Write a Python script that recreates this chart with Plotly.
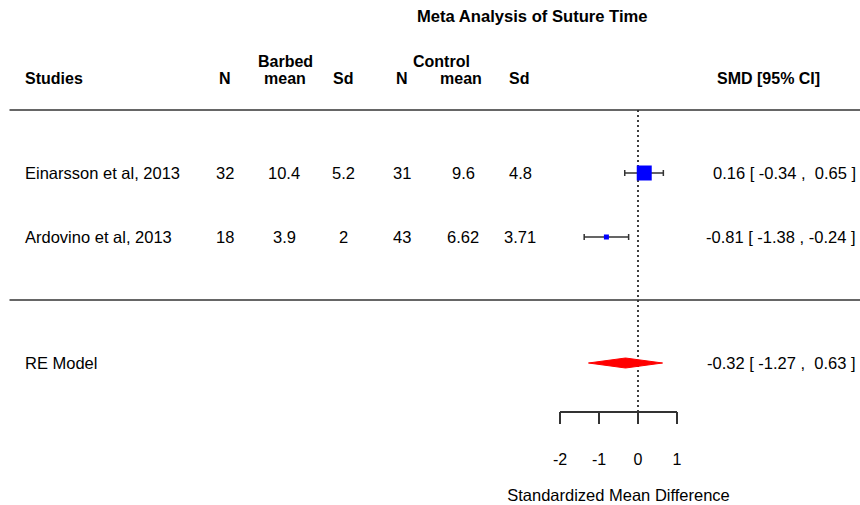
import plotly.graph_objects as go

# ---------------- data ----------------
studies = ["Einarsson et al, 2013", "Ardovino et al, 2013"]
barbed_n = ["32", "18"]
barbed_mean = ["10.4", "3.9"]
barbed_sd = ["5.2", "2"]
control_n = ["31", "43"]
control_mean = ["9.6", "6.62"]
control_sd = ["4.8", "3.71"]
smd = [0.16, -0.81]
ci_lo = [-0.34, -1.38]
ci_hi = [0.65, -0.24]
re_label = "RE Model"
re_smd = -0.32
re_lo = -1.27
re_hi = 0.63
x_ticks = [-2, -1, 0, 1]
title = "Meta Analysis of Suture Time"
x_title = "Standardized Mean Difference"

# ---------------- layout helpers ----------------
W, H = 860, 505
ZERO_PX, UNIT_PX = 638, 39          # x pixel of SMD 0, pixels per SMD unit
ROW0_PX, ROW_PX = 173, 64           # pixel of row 2, pixels per row
FONT = "Liberation Sans, Arial, sans-serif"
INK = "#000000"
LINE = "#333333"


def px2x(p):
    return (p - ZERO_PX) / UNIT_PX


def py2y(p):
    return 2 - (p - ROW0_PX) / ROW_PX


k = len(studies)
study_rows = list(range(k, 0, -1))   # 2, 1
re_row = py2y(363)
header_line_row = py2y(110)
sep_row = py2y(300)
axis_row = py2y(411.5)

fig = go.Figure()

# study CIs + squares
fig.add_trace(go.Scatter(
    x=smd, y=study_rows, mode="markers",
    marker=dict(symbol="square", size=[15, 5], color="#0000FF", opacity=1,
                line=dict(width=0)),
    error_x=dict(type="data", symmetric=False,
                 array=[h - e for h, e in zip(ci_hi, smd)],
                 arrayminus=[e - l for e, l in zip(smd, ci_lo)],
                 color=LINE, thickness=1.5, width=3),
    hoverinfo="skip", showlegend=False,
))

# summary diamond
dh = 5 / ROW_PX
fig.add_trace(go.Scatter(
    x=[re_lo, re_smd, re_hi, re_smd, re_lo],
    y=[re_row, re_row + dh, re_row, re_row - dh, re_row],
    mode="lines", fill="toself", fillcolor="#FF0000",
    line=dict(color="#FF0000", width=1),
    hoverinfo="skip", showlegend=False,
))

# invisible trace to activate bottom axis
fig.add_trace(go.Scatter(
    x=x_ticks, y=[re_row] * len(x_ticks), xaxis="x2", yaxis="y",
    mode="markers", marker=dict(opacity=0), hoverinfo="skip", showlegend=False,
))

shapes = [
    dict(type="line", xref="x", yref="y", x0=px2x(9.5), x1=px2x(860),
         y0=header_line_row, y1=header_line_row, line=dict(color=LINE, width=1.5)),
    dict(type="line", xref="x", yref="y", x0=px2x(9.5), x1=px2x(860),
         y0=sep_row, y1=sep_row, line=dict(color=LINE, width=1.5)),
    dict(type="line", xref="x", yref="y", x0=0, x1=0, layer="below",
         y0=header_line_row, y1=axis_row, line=dict(color=INK, width=1.5, dash="2px,3px")),
]

ann = []


def txt(text, xpx, y, anchor="center", size=16.5, bold=False):
    ann.append(dict(
        text=f"<b>{text}</b>" if bold else text,
        x=px2x(xpx), y=y, xref="x", yref="y",
        xanchor=anchor, yanchor="middle", showarrow=False,
        font=dict(family=FONT, size=size, color=INK),
    ))


# title
txt(title, 532.5, py2y(16), bold=True, size=16.6)

# headers
hdr_y = py2y(78)
hdr2_y = py2y(61)
txt("Studies", 23, hdr_y, anchor="left", bold=True, size=16)
txt("N", 225, hdr_y, bold=True, size=16)
txt("Barbed", 285, hdr2_y, bold=True, size=16)
txt("mean", 285, hdr_y, bold=True, size=16)
txt("Sd", 343, hdr_y, bold=True, size=16)
txt("N", 402, hdr_y, bold=True, size=16)
txt("Control", 441, hdr2_y, bold=True, size=16)
txt("mean", 461, hdr_y, bold=True, size=16)
txt("Sd", 519, hdr_y, bold=True, size=16)
txt("SMD [95% CI]", 822, hdr_y, anchor="right", bold=True, size=16)

col_px = [225, 284, 343, 402, 463, 520]
cols = [barbed_n, barbed_mean, barbed_sd, control_n, control_mean, control_sd]


def ci_text(e, lo, hi):
    return f"{e:.2f} [ {lo:5.2f} , {hi:5.2f} ]".replace(" ", "\u00a0")


for i, row in enumerate(study_rows):
    txt(studies[i], 23, row, anchor="left")
    for cx, col in zip(col_px, cols):
        txt(col[i], cx, row)
    txt(ci_text(smd[i], ci_lo[i], ci_hi[i]), 858, row, anchor="right")

txt(re_label, 23, re_row, anchor="left")
txt(ci_text(re_smd, re_lo, re_hi), 858, re_row, anchor="right")

fig.update_layout(
    width=W, height=H, autosize=False,
    margin=dict(l=0, r=0, t=0, b=0, pad=0),
    paper_bgcolor="white", plot_bgcolor="rgba(0,0,0,0)",
    shapes=shapes, annotations=ann,
    xaxis=dict(range=[px2x(0), px2x(W)], visible=False, fixedrange=True, automargin=False),
    yaxis=dict(range=[py2y(H), py2y(0)], visible=False, fixedrange=True, automargin=False),
    xaxis2=dict(
        domain=[(ZERO_PX - 2 * UNIT_PX) / W, (ZERO_PX + 1 * UNIT_PX) / W],
        range=[-2, 1], anchor="free", position=1 - 411.5 / H, side="bottom",
        automargin=False,
        showline=True, linecolor=LINE, linewidth=1.5,
        ticks="outside", ticklen=12, tickwidth=1.5, tickcolor=LINE,
        tickvals=x_ticks, ticktext=[str(t) for t in x_ticks],
        tickfont=dict(family=FONT, size=16, color=INK),
        ticklabelstandoff=22,
        showgrid=False, zeroline=False, fixedrange=True,
        title=dict(text=x_title, font=dict(family=FONT, size=16.5, color=INK), standoff=21),
    ),
    showlegend=False,
)

fig.write_html(
    "out.html",
    config={"displayModeBar": False},
    post_script="document.body.style.margin='0';document.body.style.overflow='hidden';",
)
